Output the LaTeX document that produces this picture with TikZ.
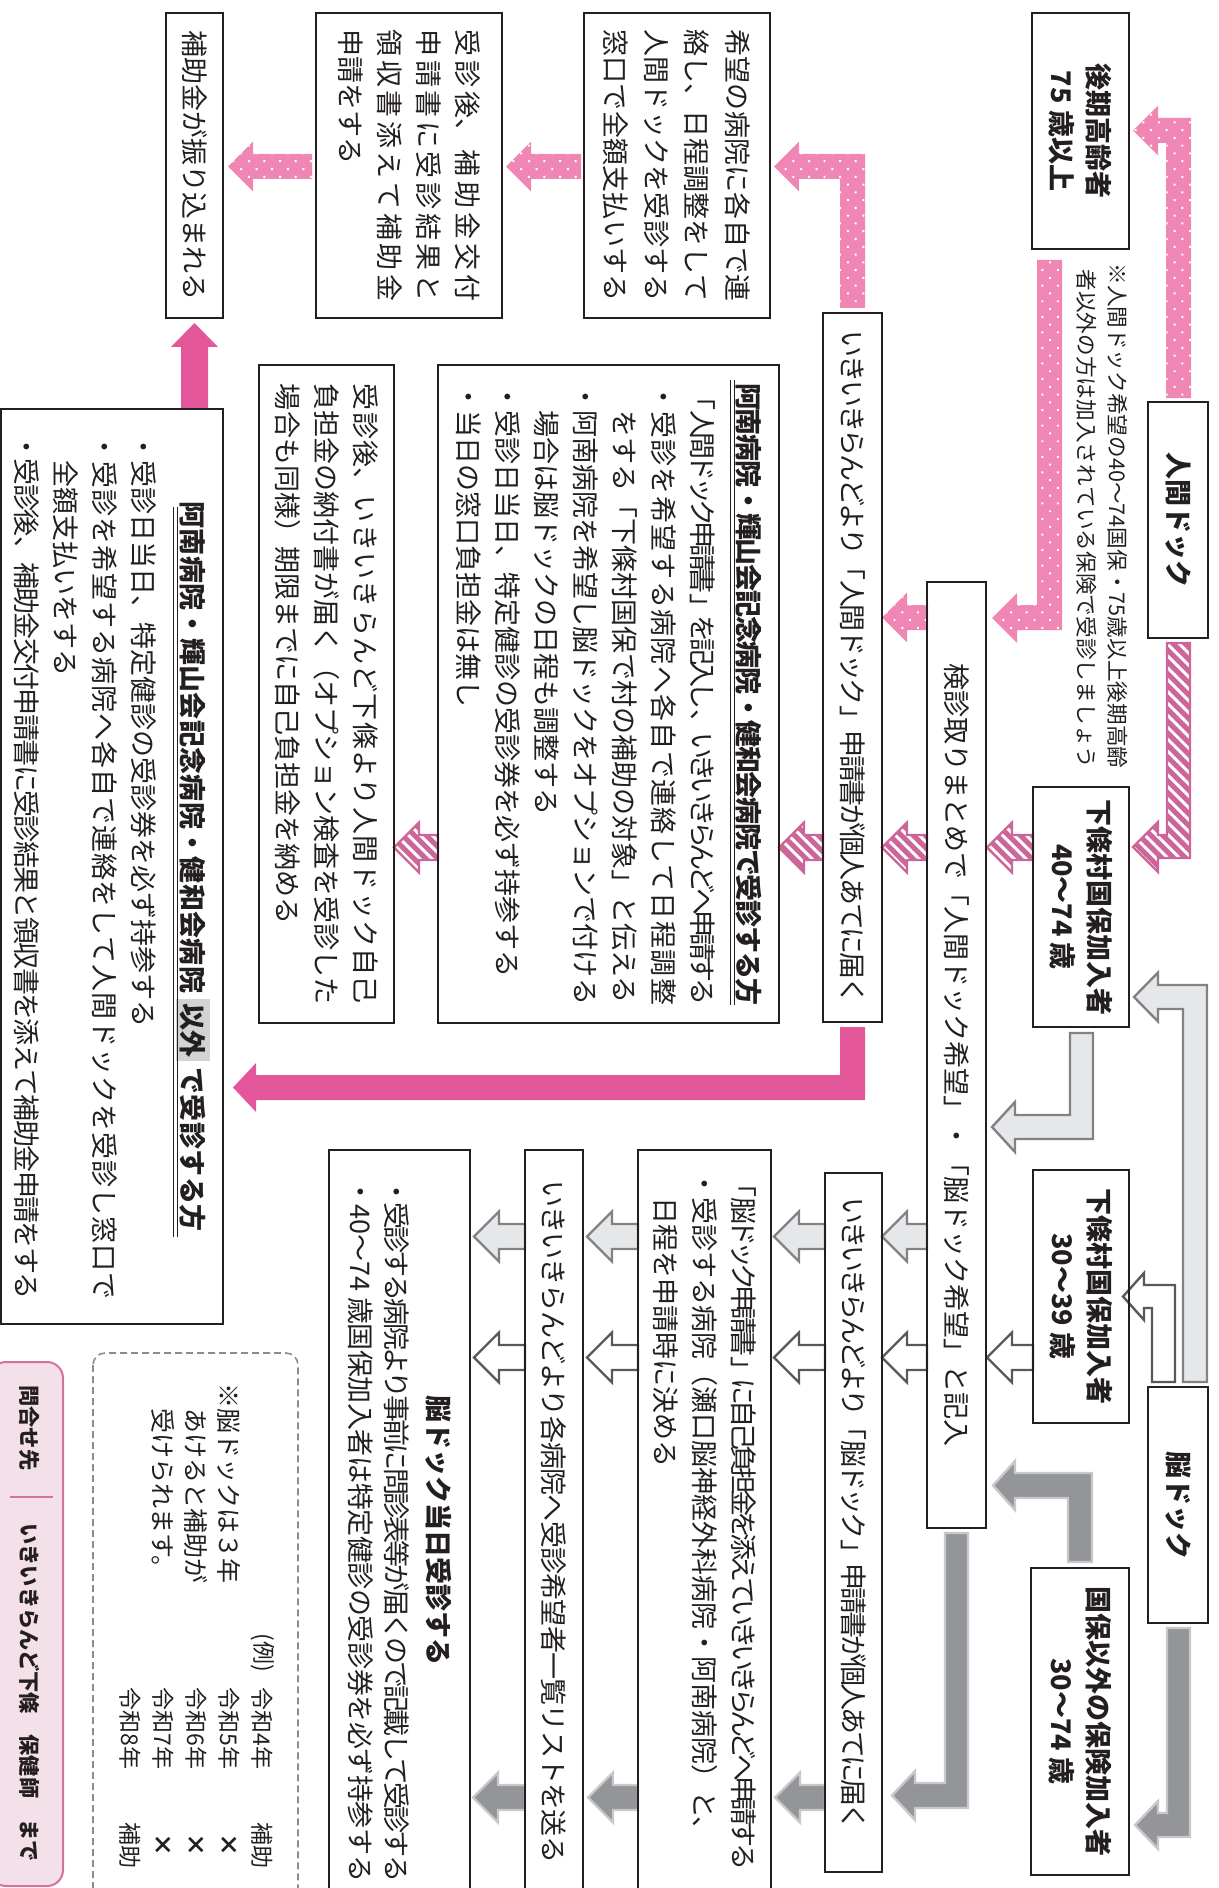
\documentclass[tikz,border=0pt]{standalone}
\usepackage{fontspec}
\newfontfamily\jp{Noto Sans CJK JP}
\usetikzlibrary{patterns.meta}
\XeTeXlinebreaklocale "ja"
\XeTeXlinebreakskip=0pt plus 30pt minus 4pt
\XeTeXlinebreakpenalty=10000
\definecolor{ink}{HTML}{231F20}
\definecolor{pkdot}{HTML}{EF86B4}
\definecolor{pksol}{HTML}{E3569A}
\definecolor{pkhat}{HTML}{CC6699}
\definecolor{glf}{HTML}{E6E7E8}
\definecolor{glo}{HTML}{808285}
\definecolor{gwo}{HTML}{58595B}
\definecolor{gdf}{HTML}{939598}
\definecolor{gdo}{HTML}{C7C8CA}
\definecolor{hl}{HTML}{D1D3D4}
\definecolor{pkbox}{HTML}{F3E0E9}
\definecolor{pkbord}{HTML}{D5719F}
\definecolor{dashc}{HTML}{8A8C8E}
\newcommand\fs[2]{\fontsize{#1}{#2}\selectfont}
\newcommand\JB[2]{\vbox{\hsize=#1pt\leftskip=0pt\rightskip=0pt\parfillskip=0pt\parindent=0pt\noindent#2\par}}
\newcommand\JL[2]{\par\noindent\JB{#1}{#2}\par}
\newcommand\RL[1]{\par\noindent\hbox{#1}\par}
\newcommand\CL[2]{\par\noindent\hbox to #1pt{\hfil#2\hfil}\par}
\newcommand\TB[2]{\vbox{\hsize=#1pt\parindent=0pt\parskip=0pt\leftskip=0pt\rightskip=0pt plus 1fil#2}}
\newcommand\LArrow[4]{\path[#1] (#2,{#4-12.5}) -- ({#3+25},{#4-12.5}) -- ({#3+25},{#4-25}) -- (#3,#4) -- ({#3+25},{#4+25}) -- ({#3+25},{#4+12.5}) -- (#2,{#4+12.5}) -- cycle;}
\tikzset{
  box/.style={draw=ink, line width=1pt, rotate=-90, inner sep=0pt, outer sep=0pt, text=ink, font=\jp\fs{13.5}{19.5}},
  bx/.style n args={4}{box, at={({(#1+#2)/2},{(#3+#4)/2})}, minimum width={(#4-#3)*0.5pt}, minimum height={(#2-#1)*0.5pt}},
  lab/.style={align=center, font=\jp\bfseries\fs{13.5}{18.5}},
  txt/.style={rotate=-90, anchor=west, inner sep=0pt, text=ink},
  pdot/.style={preaction={fill=pkdot}, pattern={Dots[distance=5.5pt,angle=45,radius=0.7pt]}, pattern color=white},
  phat/.style={preaction={fill=pkhat}, pattern={Lines[angle=-45,distance=4.2pt,line width=1.5pt]}, pattern color=white, draw=pkhat, line width=1.2pt},
  psol/.style={fill=pksol},
  glt/.style={fill=glf, draw=glo, line width=1.2pt},
  gwt/.style={fill=white, draw=gwo, line width=1.2pt},
  gdk/.style={fill=gdf, draw=gdo, line width=1.2pt},
}
\begin{document}
\begin{tikzpicture}[x=0.5pt,y=-0.5pt]
\useasboundingbox (0,0) rectangle (1219,1888);
\clip (0,0) rectangle (1219,1888);
% ---------- arrows ----------
% pink dotted
\path[pdot] (1166,398) -- (1166,143) -- (1158,143) -- (1158,155.5) -- (1133,130.5) -- (1158,105.5) -- (1158,118) -- (1191,118) -- (1191,398) -- cycle;
\path[pdot] (1037,260) -- (1037,605) -- (1017,605) -- (1017,593) -- (992,618) -- (1017,643) -- (1017,630) -- (1062,630) -- (1062,260) -- cycle;
\path[pdot] (840,308) -- (840,179) -- (799,179) -- (799,191.5) -- (774,166.5) -- (799,141.5) -- (799,154) -- (865,154) -- (865,308) -- cycle;
\LArrow{pdot}{581}{506}{166.5}
\LArrow{pdot}{312}{228}{166.5}
\LArrow{pdot}{928}{882}{617.5}
% hatched
\path[phat] (1167,643) -- (1167,835) -- (1158,835) -- (1158,822) -- (1133,847) -- (1158,872) -- (1158,858) -- (1190,858) -- (1190,643) -- cycle;
\LArrow{phat}{1033}{987}{847.5}
\LArrow{phat}{927}{882}{847.5}
\LArrow{phat}{823}{779}{847.5}
\LArrow{phat}{438}{394}{847.5}
% solid pink
\path[psol] (865,1027) -- (865,1100) -- (256,1100) -- (256,1112) -- (233,1087.5) -- (256,1063) -- (256,1075) -- (840,1075) -- (840,1027) -- cycle;
\path[psol] (181,409) -- (181,347) -- (171,347) -- (194.5,323) -- (218,347) -- (208,347) -- (208,409) -- cycle;
% light gray
\path[glt] (1183,1382) -- (1183,1009) -- (1158,1009) -- (1158,1021.5) -- (1134,997) -- (1158,972.5) -- (1158,985) -- (1207,985) -- (1207,1382) -- cycle;
\path[glt] (1093,1033) -- (1093,1139) -- (1015,1139) -- (1015,1152) -- (992,1127) -- (1015,1102) -- (1015,1115) -- (1070,1115) -- (1070,1033) -- cycle;
\LArrow{glt}{927}{882}{1236.5}
\LArrow{glt}{825}{774}{1236.5}
\LArrow{glt}{638}{587}{1236.5}
\LArrow{glt}{525}{474}{1236.5}
% white
\path[gwt] (1152,1382) -- (1152,1308) -- (1144,1308) -- (1144,1320) -- (1123,1296.5) -- (1144,1273) -- (1144,1285) -- (1175,1285) -- (1175,1382) -- cycle;
\LArrow{gwt}{1033}{987}{1357.5}
\LArrow{gwt}{927}{882}{1357.5}
\LArrow{gwt}{825}{774}{1357.5}
\LArrow{gwt}{638}{587}{1357.5}
\LArrow{gwt}{525}{474}{1357.5}
% dark gray
\path[gdk] (1167,1628) -- (1167,1813) -- (1158,1813) -- (1158,1801) -- (1135,1825) -- (1158,1849) -- (1158,1837) -- (1190,1837) -- (1190,1628) -- cycle;
\path[gdk] (1068,1562) -- (1068,1498) -- (1015,1498) -- (1015,1510) -- (993,1485.5) -- (1015,1461) -- (1015,1473) -- (1092,1473) -- (1092,1562) -- cycle;
\path[gdk] (968,1533) -- (968,1808) -- (915,1808) -- (915,1820) -- (892,1795.5) -- (915,1771) -- (915,1783) -- (945,1783) -- (945,1533) -- cycle;
\LArrow{gdk}{825}{775}{1797.5}
\LArrow{gdk}{638}{588}{1797.5}
\LArrow{gdk}{525}{473}{1797.5}
% ---------- boxes ----------
\node[bx={166}{223}{13}{318}, align=center] (a) {補助金が振り込まれる};
\node[bx={316}{502}{13}{318}] (b) {\TB{136}{\JL{136}{受診後、補助金交付}\JL{136}{申請書に受診結果と}\JL{136}{領収書添えて補助金}\RL{申請をする}}};
\node[bx={584}{770}{13}{318}, font=\jp\fs{13.5}{20.3}] (c) {\TB{136}{\JL{136}{希望の病院に各自で連}\JL{136}{絡し、日程調整をして}\JL{136}{人間ドックを受診する}\JL{136}{窓口で全額支払いする}}};
\node[bx={1032}{1129}{13}{249}, lab] (d) {後期高齢者\\75 歳以上};
\node[bx={1148}{1208}{402}{638}, lab] (e) {人間ドック};
\node[bx={1033}{1129}{787}{1027}, lab] (f) {下條村国保加入者\\40〜74 歳};
\node[bx={1033}{1129}{1170}{1423}, lab] (g) {下條村国保加入者\\30〜39 歳};
\node[bx={1148}{1208}{1387}{1623}, lab] (h) {脳ドック};
\node[bx={1031}{1129}{1568}{1875}, lab] (i) {国保以外の保険加入者\\30〜74 歳};
\node[bx={927}{986}{582}{1528}, align=center] (j) {検診取りまとめで「人間ドック希望」・「脳ドック希望」と記入};
\node[bx={823}{882}{313}{1022}] (k) {\TB{336.5}{\JL{336.5}{いきいきらんどより「人間ドック」申請書が個人あてに届く}}};
\node[bx={825}{882}{1173}{1872}] (l) {\TB{325.5}{\JL{316.5}{いきいきらんどより「脳ドック」申請書が個人あてに届く}}};
\node[bx={438}{779}{365}{1023}] (m) {\TB{311}{\JL{311}{\bfseries 阿南病院・輝山会記念病院・健和会病院で受診する方}\vspace{3.5pt}\JL{311}{「人間ドック申請書」を記入し、いきいきらんどへ申請する}\JL{311}{・受診を希望する病院へ各自で連絡して日程調整}\RL{　をする「下條村国保で村の補助の対象」と伝える}\JL{311}{・阿南病院を希望し脳ドックをオプションで付ける}\RL{　場合は脳ドックの日程も調整する}\RL{・受診日当日、特定健診の受診券を必ず持参する}\RL{・当日の窓口負担金は無し}}};
\node[bx={259}{394}{365}{1023}] (n) {\TB{310}{\JL{310}{受診後、いきいきらんど下條より人間ドック自己}\JL{310}{負担金の納付書が届く（オプション検査を受診した}\RL{場合も同様）期限までに自己負担金を納める}}};
\node[bx={1}{223}{409}{1324}] (o) {\TB{433}{\CL{433}{\JB{365}{\bfseries 阿南病院・輝山会記念病院・健和会病院 {\fboxsep=2pt\colorbox{hl}{以外}} で受診する方}}\vspace{5pt}\RL{・受診日当日、特定健診の受診券を必ず持参する}\JL{433}{・受診を希望する病院へ各自で連絡をして人間ドックを受診し窓口で}\RL{　全額支払いをする}\JL{433}{・受診後、補助金交付申請書に受診結果と領収書を添えて補助金申請をする}}};
\node[bx={638}{771}{1150}{1910}] (p) {\TB{360}{\JL{350}{「脳ドック申請書」に自己負担金を添えていきいきらんどへ申請する}\RL{・受診する病院（瀬口脳神経外科病院・阿南病院）と、}\RL{　日程を申請時に決める}}};
\node[bx={525}{583}{1150}{1910}] (q) {\TB{350}{\JL{341.5}{いきいきらんどより各病院へ受診希望者一覧リストを送る}}};
\node[bx={329}{470}{1150}{1910}, font=\jp\fs{13.5}{18}] (r) {\TB{352}{\CL{352}{\bfseries 脳ドック当日受診する}\vspace{3pt}\JL{352}{・受診する病院より事前に問診表等が届くので記載して受診する}\JL{352}{・40〜74 歳国保加入者は特定健診の受診券を必ず持参する}}};
% underlines
\draw[ink, line width=0.5pt] (730,380) -- (730,1005) (734,380) -- (734,1005);
\draw[ink, line width=0.5pt] (173,507) -- (173,1237) (177,507) -- (177,1237);
% note under 人間ドック
\node[txt] (note) at (1102.5,263) {\jp\fs{10.8}{15.5}\TB{252.5}{\JL{252.5}{※人間ドック希望の40〜74国保・75歳以上後期高齢}\JL{252.5}{\kern3pt 者以外の方は加入されている保険で受診しましょう}}};
% dashed note box
\draw[dashc, dash pattern=on 3.5pt off 2pt, line width=0.8pt, rounded corners=6pt] (93,1353) rectangle (298,1905);
\node[txt, align=left, font=\jp\fs{12.5}{16.5}] (dnote) at (196.5,1383) {※脳ドックは３年\\　あけると補助が\\　受けられます。};
\node[txt, font=\jp\fs{11.5}{16.5}] (ex) at (263,1633) {(例)};
\node[txt, align=left, font=\jp\fs{11.5}{16.5}] (yrs) at (196.5,1687) {令和4年\\令和5年\\令和6年\\令和7年\\令和8年};
\node[rotate=-90, inner sep=0pt, text=ink, align=center, font=\jp\fs{11.5}{16.5}] (sub) at (196.5,1845) {補助\\{\bfseries ×}\\{\bfseries ×}\\{\bfseries ×}\\補助};
% contact box
\draw[fill=pkbox, draw=pkbord, line width=1pt, rounded corners=8pt] (-10,1362) rectangle (63,1886);
\draw[pkbord, line width=0.8pt] (10,1497) -- (53,1497);
\node[txt, font=\jp\bfseries\fs{10.6}{12}] (ask) at (30,1385) {問合せ先};
\node[txt, font=\jp\bfseries\fs{10.6}{12}] (who) at (30,1523) {いきいきらんど下條　保健師　まで};
\end{tikzpicture}
\end{document}
